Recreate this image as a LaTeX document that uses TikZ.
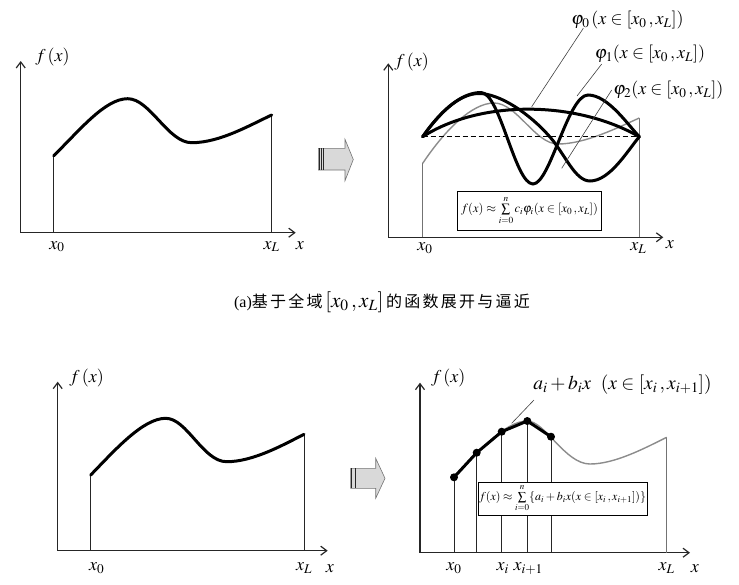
\documentclass[tikz,border=0pt]{standalone}
\usepackage{mathptmx}
\usepackage{fontspec}
\setmainfont{Liberation Serif}
\newfontfamily\cjk[LetterSpace=14]{Noto Sans CJK SC}
\usepackage{tikz}
\usetikzlibrary{arrows.meta}
\usetikzlibrary{positioning}

\begin{document}
\begin{tikzpicture}[
    x=1pt, y=-1pt,
    axes/.style={line width=1.2pt, black!85, {Straight Barb[length=6pt,width=9pt]}-{Straight Barb[length=6pt,width=9pt]}},
    fcurve/.style={line width=3pt, black, line cap=round},
    gcurve/.style={line width=1.4pt, black!45},
    vline/.style={line width=0.8pt, black!85},
    gline/.style={line width=1pt, black!55},
    lead/.style={line width=0.6pt, black!75},
    lbl/.style={inner sep=0pt, font=\fontsize{18}{18}\selectfont},
    fbox/.style={draw, fill=white, line width=0.6pt, inner sep=1pt},
    dot/.style={circle, fill=black, inner sep=0pt, minimum size=8pt},
    bigarrow/.style={fill=black!15, draw=black!55, line width=0.6pt},
    stripe/.style={line width=0.8pt, black!85}
    ]
\useasboundingbox (0,0) rectangle (739,584);

\coordinate (ytop1) at (20.7,61);
\coordinate (xend1) at (295.7,232.7);
\coordinate (a1) at (53.7,232.7);
\coordinate (s1) at (53.7,155.7);
\coordinate (b1) at (271.7,232.7);
\coordinate (e1) at (271.7,115);
\draw[axes] (ytop1) |- (xend1);
\draw[vline] (a1) -- (s1);
\draw[vline] (b1) -- (e1);
\draw[fcurve] (s1) .. controls (80,130) and (105,98.7) .. (127.7,98.7)
    .. controls (150,98.7) and (168,142.7) .. (191.7,142.7)
    .. controls (220,142.7) and (250,125) .. (e1);
\node[lbl] (fx1) at (52.5,57) {$f\,(x)$};
\node[lbl] (x01) at (57,246.7) {$x_0$};
\node[lbl] (xL1) at (271.7,246.7) {$x_L$};
\node[lbl] (x1) at (300,246) {$x$};

\draw[bigarrow] (318.3,148.3) -- (345,148.3) -- (345,139.3) -- (353.3,159.5) -- (345,180.7) -- (345,170) -- (318.3,170) -- cycle;
\draw[stripe] (319.3,148.3) -- (319.3,170);
\draw[stripe] (321.5,148.3) -- (321.5,170);
\draw[stripe] (323.7,148.3) -- (323.7,170);

\coordinate (ytop2) at (388.3,63.3);
\coordinate (xend2) at (663.3,237.3);
\coordinate (a2) at (422.7,237.3);
\coordinate (s2) at (422.7,163.3);
\coordinate (b2) at (639.3,237.3);
\coordinate (e2) at (639.3,118);
\coordinate (l2) at (422.7,136.7);
\coordinate (r2) at (639.3,136.7);
\draw[axes] (ytop2) |- (xend2);
\draw[gline] (a2) -- (s2);
\draw[gline] (b2) -- (e2);
\draw[gcurve] (s2) .. controls (445,130) and (472,103) .. (494,103)
    .. controls (517,103) and (535,144) .. (558,144)
    .. controls (585,144) and (617,128) .. (e2);
\draw[line width=1.2pt, dashed, dash pattern=on 5pt off 3pt] (l2) -- (r2);
\draw[fcurve] (l2) .. controls (480,100) and (575,100) .. (r2);
\draw[fcurve] (l2) .. controls (443,108) and (462,93.5) .. (479,93.5)
    .. controls (500,93.5) and (530,114) .. (550,137)
    .. controls (565,154.25) and (575,181) .. (590,181)
    .. controls (610,181) and (628,150) .. (r2);
\draw[fcurve] (l2) .. controls (444,106) and (464,92.5) .. (481,92.5)
    .. controls (500,92.5) and (515,184) .. (533,184)
    .. controls (550,184) and (568,95) .. (588,95)
    .. controls (608,95) and (628,125) .. (r2);
\node[lbl] (phi0) at (627.5,20) {$\varphi_0\,(x\in[x_0\,,x_L])$};
\node[lbl] (phi1) at (650,54) {$\varphi_1(x\in[x_0\,,x_L])$};
\node[lbl] (phi2) at (668.3,90) {$\varphi_2(x\in[x_0\,,x_L])$};
\coordinate (p0a) at (531.7,106.7);
\coordinate (p0b) at (583.3,28.3);
\coordinate (p1a) at (577,96);
\coordinate (p1b) at (601.7,64);
\coordinate (p2a) at (561.7,168.3);
\coordinate (p2b) at (611.7,90);
\draw[lead] (p0a) -- (p0b);
\draw[lead] (p1a) -- (p1b);
\draw[lead] (p2a) -- (p2b);
\node[fbox, minimum width=144pt, minimum height=39pt, font=\fontsize{12.5}{12.5}\selectfont] (sum1) at (529.5,210.5)
    {$f(x)\approx\sum\limits_{i=0}^{n}c_i\varphi_i(x\in[x_0\,,x_L])$};
\node[lbl] (fx2) at (411.7,61.7) {$f\,(x)$};
\node[lbl] (x02) at (425,248.3) {$x_0$};
\node[lbl] (xL2) at (638.3,248) {$x_L$};
\node[lbl] (x2) at (670,245) {$x$};

\node (cap) at (382,302) {\fontsize{16}{16}\selectfont (a)\cjk 基于全域\,{\fontsize{21}{21}\selectfont$[x_0\,,x_L]$}\,的函数展开与逼近};

\coordinate (ytop3) at (57.7,381.7);
\coordinate (xend3) at (327.7,550.7);
\coordinate (a3) at (90.7,550.7);
\coordinate (s3) at (90.7,475);
\coordinate (b3) at (304,550.7);
\coordinate (e3) at (304,434.3);
\draw[axes] (ytop3) |- (xend3);
\draw[vline] (a3) -- (s3);
\draw[vline] (b3) -- (e3);
\draw[fcurve] (s3) .. controls (115,450) and (143,418.3) .. (165.7,418.3)
    .. controls (187,418.3) and (203,461.7) .. (226.7,461.7)
    .. controls (253,461.7) and (283,445) .. (e3);
\node[lbl] (fx3) at (86.7,378.3) {$f\,(x)$};
\node[lbl] (x03) at (96.7,568.3) {$x_0$};
\node[lbl] (xL3) at (304,568.3) {$x_L$};
\node[lbl] (x3) at (330,568.3) {$x$};

\draw[bigarrow] (350.7,468.3) -- (375.7,468.3) -- (375.7,458.3) -- (385,478.3) -- (375.7,498.3) -- (375.7,488.3) -- (350.7,488.3) -- cycle;
\draw[stripe] (351.7,468.3) -- (351.7,488.3);
\draw[stripe] (355,468.3) -- (355,488.3);

\coordinate (ytop4) at (420,382.7);
\coordinate (xend4) at (690,552.7);
\coordinate (P0) at (454,477.3);
\coordinate (P1) at (476.7,452.7);
\coordinate (P2) at (501.7,431.7);
\coordinate (P3) at (527.3,421);
\coordinate (P4) at (551,436.7);
\coordinate (e4) at (666.7,437.3);
\coordinate (b4) at (666.7,552.7);
\draw[axes] (ytop4) |- (xend4);
\draw[gline] (b4) -- (e4);
\foreach \p in {P0,P1,P2,P3,P4}
  \draw[vline] (\p) -- (\p |- xend4);
\draw[gcurve] (P0) .. controls (478,452) and (505,421) .. (527.3,421)
    .. controls (545,421) and (565,464) .. (590,464)
    .. controls (615,464) and (645,448) .. (e4);
\draw[fcurve, line join=round] (P0) -- (P1) -- (P2) -- (P3) -- (P4);
\foreach \p in {P0,P1,P2,P3,P4}
  \node[dot] at (\p) {};
\node[lbl, font=\fontsize{19.5}{19.5}\selectfont] (ab) at (622.5,385) {$a_i+b_ix\ \ (x\in[x_i\,,x_{i+1}])$};
\coordinate (q1) at (511.7,423.3);
\coordinate (q2) at (534,400);
\draw[lead] (q1) -- (q2);
\node[fbox, minimum width=163pt, minimum height=33pt, font=\fontsize{12}{12}\selectfont] (sum2) at (562.5,498.3)
    {$f(x)\approx\sum\limits_{i=0}^{n}\{a_i+b_ix(x\in[x_i\,,x_{i+1}])\}$};
\node[lbl] (fx4) at (448.3,378) {$f\,(x)$};
\node[lbl] (x04) at (454,568.3) {$x_0$};
\node[lbl] (xi4) at (502.7,568.3) {$x_i$};
\node[lbl] (xi14) at (528.3,568.3) {$x_{i+1}$};
\node[lbl] (xL4) at (666.7,568.3) {$x_L$};
\node[lbl] (x4) at (695,568.3) {$x$};

\end{tikzpicture}
\end{document}
